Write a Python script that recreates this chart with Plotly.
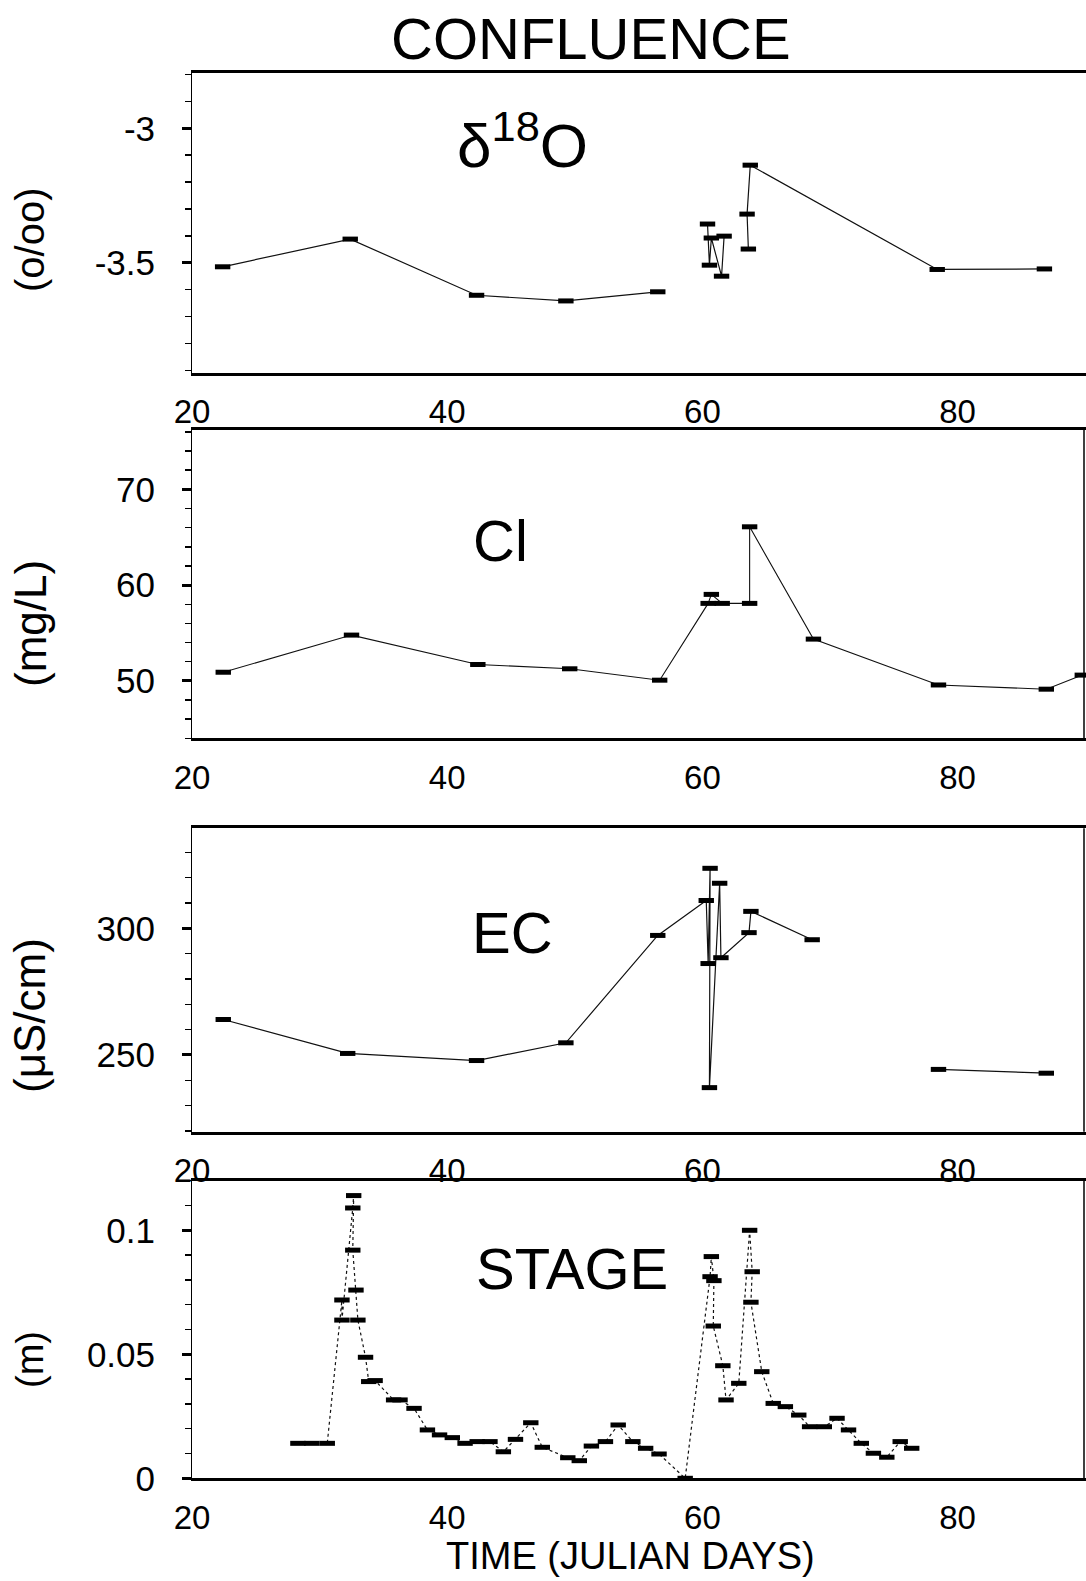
import plotly.graph_objects as go

W, H = 1086, 1581
FONT = "Liberation Sans, Arial, Helvetica, sans-serif"

# ---------------- data ----------------
o18_day = [22.4, 32.4, 42.3, 49.3, 56.5, None, 60.4, 60.55, 60.7, 61.5, 61.7, None,
           63.6, 63.5, 63.75, 78.4, 86.8]
o18_val = [-3.515, -3.412, -3.621, -3.642, -3.608, None, -3.356, -3.509, -3.408, -3.550, -3.401, None,
           -3.449, -3.319, -3.137, -3.525, -3.523]

cl_day = [22.45, 32.5, 42.4, 49.6, 56.65, 60.45, 60.7, 61.55, 63.7, 63.7, 68.7, 78.5, 86.95, 89.77]
cl_val = [50.9, 54.78, 51.71, 51.26, 50.07, 58.09, 59.03, 58.09, 58.09, 66.09, 54.36, 49.57, 49.13, 50.6]

ec_day = [22.45, 32.2, 42.3, 49.3, 56.5, 60.3, 60.45, 60.6, 60.55, 61.35, 61.45, 63.65, 63.8, 68.6,
          None, 78.5, 86.95]
ec_val = [264.0, 250.6, 247.8, 254.8, 297.2, 311.0, 286.1, 323.7, 237.1, 317.8, 288.4, 298.3, 306.7, 295.5,
          None, 244.3, 242.8]

stage_day = [28.3, 29.4, 30.6, 31.75, 31.75, 32.6, 32.67, 32.6, 32.85, 33.0, 33.6, 33.85, 34.35, 35.8,
             36.3, 37.4, 38.45, 39.4, 40.4, 41.4, 42.35, 43.35, 44.4, 45.35, 46.55, 47.45, 49.45, 50.35,
             51.3, 52.4, 53.4, 54.55, 55.55, 56.6, 58.65, 60.6, 60.7, 60.9, 60.85, 61.6, 61.85, 62.85,
             63.7, 63.9, 63.8, 64.65, 65.55, 66.5, 67.55, 68.4, 69.55, 70.55, 71.45, 72.45, 73.4, 74.45,
             75.5, 76.4]
stage_val = [0.0141, 0.0141, 0.0141, 0.0719, 0.0638, 0.109, 0.114, 0.092, 0.0759, 0.0638, 0.0488, 0.039,
             0.0394, 0.0316, 0.0316, 0.0282, 0.0195, 0.0175, 0.0164, 0.0141, 0.0148, 0.0148, 0.0107, 0.0157,
             0.0224, 0.0125, 0.0083, 0.0071, 0.013, 0.0148, 0.0215, 0.0148, 0.0121, 0.0098, 0.0, 0.0813,
             0.0894, 0.0797, 0.0614, 0.0454, 0.0316, 0.0383, 0.100, 0.0833, 0.071, 0.043, 0.0302, 0.0289,
             0.0255, 0.0208, 0.0208, 0.0242, 0.0195, 0.0141, 0.0101, 0.0085, 0.0148, 0.0121]

x_ticks = [20, 40, 60, 80]
o18_ticks, o18_labels = [-3.0, -3.5], ["-3", "-3.5"]
cl_ticks, cl_labels = [50, 60, 70], ["50", "60", "70"]
ec_ticks, ec_labels = [250, 300], ["250", "300"]
stage_ticks, stage_labels = [0, 0.05, 0.1], ["0", "0.05", "0.1"]

title = "CONFLUENCE"
panel_names = ["δ<sup>18</sup>O", "Cl", "EC", "STAGE"]
unit_names = ["(o/oo)", "(mg/L)", "(μS/cm)", "(m)"]
x_title = "TIME (JULIAN DAYS)"

# ---------------- layout geometry (pixels) ----------------
def py(p):
    return 1 - p / H

X0 = 192
panels = [
    dict(top=72.7, bot=372.7, rng=[-3.909, -2.793], minor=0.1, tick0=-3.0,
         ticks=o18_ticks, labels=o18_labels, right=False),
    dict(top=430, bot=738.3, rng=[44.0, 76.2], minor=2, tick0=50,
         ticks=cl_ticks, labels=cl_labels, right=True),
    dict(top=828.3, bot=1131.7, rng=[219.7, 339.5], minor=10, tick0=250,
         ticks=ec_ticks, labels=ec_labels, right=True),
    dict(top=1180.7, bot=1478.3, rng=[0, 0.12], minor=0.01, tick0=0,
         ticks=stage_ticks, labels=stage_labels, right=True),
]
series = [(o18_day, o18_val, "solid", 1.2), (cl_day, cl_val, "solid", 1.1),
          (ec_day, ec_val, "solid", 1.2), (stage_day, stage_val, "dot", 1.2)]

fig = go.Figure()
layout = dict(width=W, height=H, paper_bgcolor="white", plot_bgcolor="white",
              margin=dict(l=0, r=0, t=0, b=0, pad=0, autoexpand=False), showlegend=False,
              font=dict(family=FONT, color="black"))
shapes, annotations = [], []

for i, (p, s) in enumerate(zip(panels, series), start=1):
    xa = "xaxis" if i == 1 else f"xaxis{i}"
    ya = "yaxis" if i == 1 else f"yaxis{i}"
    xr = "x" if i == 1 else f"x{i}"
    yr = "y" if i == 1 else f"y{i}"
    fig.add_trace(go.Scatter(
        x=s[0], y=s[1], xaxis=xr, yaxis=yr, mode="lines+markers",
        connectgaps=False, cliponaxis=False,
        line=dict(color="#111111", width=s[3], dash=s[2]),
        marker=dict(symbol="line-ew", size=11, color="black",
                    line=dict(color="black", width=5))))
    layout[xa] = dict(domain=[X0 / W, 1], range=[20, 90.06], anchor=yr, automargin=False,
                      tickvals=x_ticks, ticks="", showgrid=False, zeroline=False,
                      showline=True, mirror=True, linewidth=3, linecolor="black",
                      tickfont=dict(size=33, family=FONT, color="black"),
                      ticklabelstandoff=8)
    layout[ya] = dict(domain=[py(p["bot"]), py(p["top"])], range=p["rng"], anchor=xr,
                      automargin=False,
                      tickvals=p["ticks"], ticktext=p["labels"], ticks="outside",
                      ticklen=9, tickwidth=3, tickcolor="black",
                      minor=dict(ticks="outside", ticklen=6, tickwidth=1.5,
                                 tickcolor="black", dtick=p["minor"], tick0=p["tick0"]),
                      showgrid=False, zeroline=False, showline=True, linewidth=1,
                      linecolor="black",
                      tickfont=dict(size=35, family=FONT, color="black"),
                      ticklabelstandoff=20)
    if p["right"]:
        shapes.append(dict(type="line", xref="paper", yref="paper",
                           x0=1084 / W, x1=1084 / W, y0=py(p["bot"]), y1=py(p["top"]),
                           line=dict(color="black", width=1.5)))

# panel labels
label_pos = [(522, 141, 62), (500, 540, 58), (512, 932, 58), (572, 1268, 58)]
for name, (lx, ly, fs) in zip(panel_names, label_pos):
    annotations.append(dict(text=name, x=lx / W, y=py(ly), xref="paper", yref="paper",
                            showarrow=False, xanchor="center", yanchor="middle",
                            font=dict(size=fs, family=FONT, color="black")))

# unit labels
unit_pos = [(30, 240, 40), (30, 624, 44), (30, 1016, 44), (30, 1360, 38)]
for name, (ux, uy, fs) in zip(unit_names, unit_pos):
    annotations.append(dict(text=name, x=ux / W, y=py(uy), xref="paper", yref="paper",
                            showarrow=False, textangle=-90, xanchor="center", yanchor="middle",
                            font=dict(size=fs, family=FONT, color="black")))

annotations.append(dict(text=title, x=591 / W, y=py(38), xref="paper", yref="paper",
                        showarrow=False, xanchor="center", yanchor="middle",
                        font=dict(size=58, family=FONT, color="black")))
annotations.append(dict(text=x_title, x=630 / W, y=py(1556), xref="paper", yref="paper",
                        showarrow=False, xanchor="center", yanchor="middle",
                        font=dict(size=38, family=FONT, color="black")))

layout["shapes"] = shapes
layout["annotations"] = annotations
fig.update_layout(**layout)
fig.write_html("out.html", config={"displayModeBar": False, "staticPlot": True},
               post_script="document.body.style.margin='0';document.body.style.padding='0';")
